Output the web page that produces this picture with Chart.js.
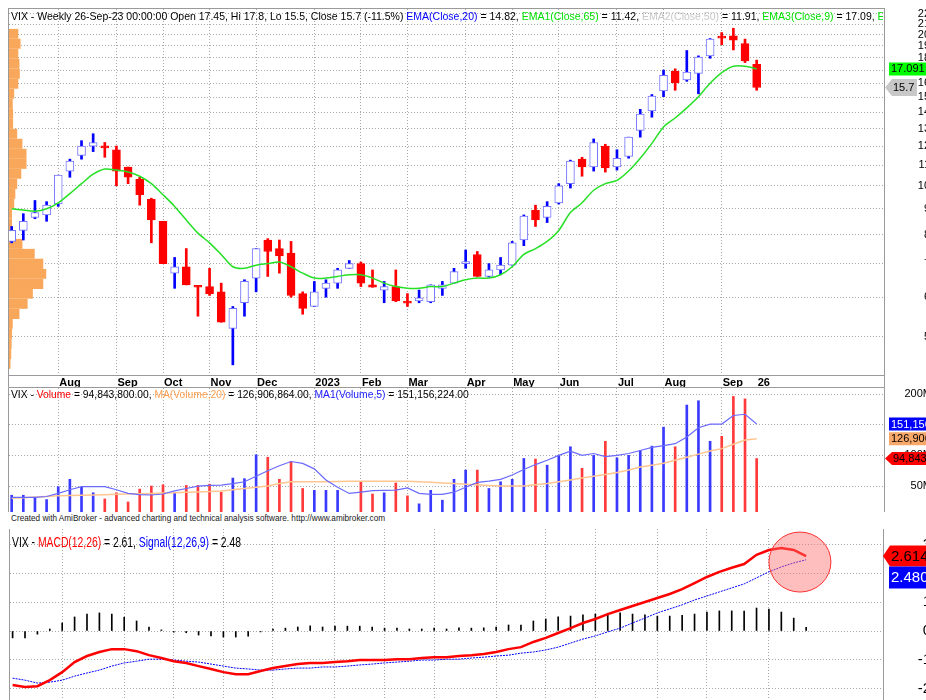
<!DOCTYPE html>
<html>
<head>
<meta charset="utf-8">
<script src="https://cdn.jsdelivr.net/npm/chart.js@4.4.0/dist/chart.umd.min.js"></script>
<style>
  html, body { margin: 0; padding: 0; background: #fff; width: 926px; height: 700px; overflow: hidden; }
  canvas { position: absolute; left: 0; }
  .t { position: absolute; white-space: nowrap; overflow: hidden; font-family: "Liberation Sans", Arial, sans-serif; color: #000; }
  .narrow { transform: scaleX(0.69); transform-origin: left top; }
</style>
</head>
<body>
<canvas id="priceChart" width="930" height="388" style="top:0"></canvas>
<canvas id="volumeChart" width="932" height="124" style="top:388px"></canvas>
<canvas id="macdChart" width="931" height="171" style="top:529px"></canvas>

<div class="t" style="left:11px;top:10px;width:872px;font-size:10.5px">VIX - Weekly 26-Sep-23 00:00:00 Open 17.45, Hi 17.8, Lo 15.5, Close 15.7 (-11.5%) <span style="color:#0000ff">EMA(Close,20)</span> = 14.82, <span style="color:#00e000">EMA1(Close,65)</span> = 11.42, <span style="color:#c8c8c8">EMA2(Close,50)</span> = 11.91, <span style="color:#00e000">EMA3(Close,9)</span> = 17.09, <span style="color:#00e000">EM</span></div>
<div class="t" style="left:11px;top:389px;width:872px;font-size:10.3px">VIX - <span style="color:#ff0000">Volume</span> = 94,843,800.00, <span style="color:#ffa050">MA(Volume,20)</span> = 126,906,864.00, <span style="color:#2020ff">MA1(Volume,5)</span> = 151,156,224.00</div>
<div class="t" style="left:11px;top:514px;font-size:8.2px;color:#202020">Created with AmiBroker - advanced charting and technical analysis software. http://www.amibroker.com</div>
<div class="t narrow" style="left:12px;top:533px;font-size:15px">VIX - <span style="color:#ff0000">MACD(12,26)</span> = 2.61, <span style="color:#0000ff">Signal(12,26,9)</span> = 2.48</div>

<script>
// weekly bars, last one is the partial week of 26-Sep-23
const weeks = ['2022-07-08','2022-07-15','2022-07-22','2022-07-29','2022-08-05','2022-08-12','2022-08-19','2022-08-26',
  '2022-09-02','2022-09-09','2022-09-16','2022-09-23','2022-09-30','2022-10-07','2022-10-14','2022-10-21','2022-10-28',
  '2022-11-04','2022-11-11','2022-11-18','2022-11-25','2022-12-02','2022-12-09','2022-12-16','2022-12-23','2022-12-30',
  '2023-01-06','2023-01-13','2023-01-20','2023-01-27','2023-02-03','2023-02-10','2023-02-17','2023-02-24','2023-03-03',
  '2023-03-10','2023-03-17','2023-03-24','2023-03-31','2023-04-07','2023-04-14','2023-04-21','2023-04-28','2023-05-05',
  '2023-05-12','2023-05-19','2023-05-26','2023-06-02','2023-06-09','2023-06-16','2023-06-23','2023-06-30','2023-07-07',
  '2023-07-14','2023-07-21','2023-07-28','2023-08-04','2023-08-11','2023-08-18','2023-08-25','2023-09-01','2023-09-08',
  '2023-09-15','2023-09-22','2023-09-26'];

const opens = [7.75,8.15,8.65,8.75,9.2,10.7,11.5,12.0,11.95,11.8,10.9,10.3,9.4,8.5,6.7,6.9,6.3,6.3,6.15,5.2,5.85,6.55,
  7.8,7.5,7.35,6.1,5.75,6.25,6.4,6.85,7.0,6.35,6.2,6.3,5.86,5.9,5.88,6.25,6.4,7.0,7.3,6.6,6.8,6.95,7.8,8.95,8.65,9.25,
  10.1,11.3,10.9,12.0,10.9,11.45,12.9,14.1,15.45,16.9,16.25,16.75,18.15,19.72,19.9,19.2,17.45];
const highs = [8.3,8.8,9.35,9.3,10.5,11.3,12.3,12.7,12.2,12.0,10.9,10.4,9.45,8.5,7.2,7.5,6.32,6.85,6.4,5.75,6.5,7.5,
  7.85,7.8,7.75,6.15,6.45,6.5,6.85,7.1,7.05,6.8,6.45,6.8,6.1,6.2,6.35,6.45,6.85,7.45,7.4,7.0,7.2,7.75,8.75,9.15,9.3,10.1,
  11.25,11.4,12.4,12.1,11.8,12.5,14.2,15.2,17.0,17.1,18.6,18.15,19.65,20.2,20.6,19.6,17.8];
const lows = [7.7,7.8,8.6,8.5,9.1,10.4,11.3,11.7,11.4,10.0,10.1,9.15,7.7,7.0,6.25,6.35,5.5,6.05,5.35,4.4,5.5,6.15,
  6.6,6.7,6.0,5.55,5.75,6.0,6.25,6.85,6.3,6.28,5.85,5.88,5.75,5.85,5.85,6.05,6.4,6.85,6.6,6.58,6.65,6.95,7.6,8.3,8.45,9.2,
  9.9,10.45,10.7,10.65,10.75,11.35,12.5,13.7,15.05,15.5,16.15,15.25,17.95,19.1,18.65,17.6,15.5];
const closes = [8.15,8.5,8.85,9.15,10.5,11.2,12.0,12.2,11.9,10.7,10.4,9.6,8.55,7.0,6.9,6.35,6.28,6.1,5.35,5.7,6.45,7.5,
  7.4,7.25,6.05,5.7,6.15,6.4,6.8,7.0,6.4,6.28,6.3,5.9,5.84,5.98,6.35,6.35,6.75,7.05,6.6,6.8,6.95,7.7,8.7,8.55,9.1,10.0,
  11.2,10.9,12.2,10.85,11.35,12.5,13.9,15.1,16.6,16.05,16.85,18.05,19.6,19.68,19.5,17.74,15.7];
const ema9 = [9.0,8.95,8.9,9.0,9.25,9.65,10.1,10.55,10.8,10.75,10.65,10.45,10.1,9.6,9.1,8.55,8.05,7.7,7.3,6.9,6.85,6.95,
  7.0,7.05,6.9,6.7,6.55,6.55,6.6,6.65,6.65,6.55,6.4,6.3,6.25,6.25,6.3,6.3,6.4,6.5,6.55,6.55,6.65,6.9,7.3,7.5,7.75,8.15,
  8.85,9.25,9.8,10.1,10.25,10.7,11.35,12.15,13.1,13.65,14.3,15.05,16.0,16.8,17.3,17.3,17.09];

// volume, millions
const volumeM = [35,35,31,28,49,61,48,39,29,39,24,45,50,52,39,51,51,53,40,63,62,101,97,61,90,46,43,43,43,4,57,37,39,55,
  34,21,43,27,61,76,76,46,57,61,95,94,84,100,114,79,100,123,96,100,108,115,146,114,182,189,123,131,196,192,94.8438];
const volMa20M = [30,31,32,33,34,34.5,35,35.5,36,36.5,37,37.5,38,38.5,39,40,40.5,41,42,44,46,48,50,54,57,57,57,57,57.5,58,
  58,58,58,58,58,57,56,55,54,53,52,51,50,50,50,52,54,57,60,63,66,69,72,76,81,84,87,92,97,102,107,111,118,125,126.9];
const volMa5M = [31.6,31.6,31.6,33,38,44,49,49,49,44,38,36,35.4,37,42,46,50,51,51.6,54,57,66,75,83,90,87,78,60,48,38,40,
  42.4,43,43.5,47,38,36.5,36.5,40,48,56,58,61,68,77,85,92,100,107,100,103,98,100,103,108,113,116,119,130,145,151,151,165,167,151.2];

// MACD pane (same weeks, drawn on its own horizontal scale)
const macdLine = [-1.88,-1.95,-1.92,-1.71,-1.43,-1.08,-0.87,-0.73,-0.63,-0.63,-0.70,-0.84,-0.94,-1.05,-1.11,-1.22,-1.32,
  -1.43,-1.50,-1.50,-1.39,-1.29,-1.22,-1.15,-1.11,-1.11,-1.08,-1.05,-1.01,-1.01,-1.01,-0.98,-0.98,-0.94,-0.91,-0.91,-0.87,
  -0.84,-0.80,-0.73,-0.63,-0.56,-0.38,-0.24,-0.07,0.10,0.28,0.42,0.59,0.73,0.87,1.01,1.15,1.29,1.46,1.67,1.88,2.06,2.20,
  2.33,2.65,2.82,2.89,2.82,2.61];
const signalLine = [-1.64,-1.71,-1.81,-1.78,-1.71,-1.57,-1.46,-1.36,-1.22,-1.11,-1.05,-0.98,-0.98,-1.01,-1.05,-1.08,-1.15,
  -1.22,-1.29,-1.32,-1.36,-1.36,-1.32,-1.29,-1.29,-1.25,-1.25,-1.22,-1.18,-1.15,-1.11,-1.08,-1.05,-1.01,-1.01,-0.98,-0.98,
  -0.94,-0.91,-0.87,-0.84,-0.77,-0.73,-0.66,-0.56,-0.42,-0.28,-0.17,-0.03,0.10,0.28,0.45,0.63,0.77,0.91,1.08,1.22,1.36,
  1.50,1.64,1.85,2.06,2.23,2.37,2.48];
const macdHist = [-0.24,-0.24,-0.11,0.07,0.28,0.49,0.59,0.63,0.59,0.48,0.35,0.14,0.04,-0.04,-0.06,-0.14,-0.17,-0.21,-0.21,
  -0.18,-0.03,0.07,0.10,0.14,0.18,0.14,0.17,0.17,0.17,0.14,0.10,0.10,0.07,0.07,0.10,0.07,0.11,0.10,0.11,0.14,0.21,0.21,
  0.35,0.42,0.49,0.52,0.56,0.59,0.62,0.63,0.59,0.56,0.52,0.52,0.55,0.59,0.66,0.70,0.70,0.69,0.80,0.76,0.66,0.45,0.13];

const priceTicks = [5,6,7,8,9,10,11,12,13,14,15,16,17,18,19,20,21,22];
const volumeTicks = [50,100,150,200];
const macdTicks = [-2,-1,0,1,2,3];
const monthTickIndex = [4,9,13,17,21,26,30,34,39,43,47,52,56,61,64];
const monthTickLabels = ['Aug','Sep','Oct','Nov','Dec','2023','Feb','Mar','Apr','May','Jun','Jul','Aug','Sep','26'];

// price-volume distribution on the left of the price pane (relative volume per price band)
const profileEdges = [20.54,19.63,18.75,17.91,17.11,16.34,15.61,14.91,14.24,13.60,12.99,12.41,11.85,11.32,10.81,10.33,
  9.86,9.42,9.00,8.60,8.21,7.84,7.49,7.16,6.83,6.53,6.23,5.96,5.69,5.43,5.19,4.96,4.73,4.52,4.32];
const profileVol = [25,31,25,28,29,25,14,10,11,11,22,36,47,47,33,22,17,14,8,8,8,36,69,92,100,92,64,50,28,10,8,7,6,4];
const profileFullWidthBars = 3.2; // the longest band spans about this many weekly bars

const FONT = "'Liberation Sans', Arial, sans-serif";
const GRID = '#a8a8a8';
const up = closes.map((c, i) => c >= opens[i]);
const xy = (arr) => arr.map((v, i) => ({ x: i, y: v }));

function paneFrame(strip) {
  return {
    id: 'paneFrame',
    afterDraw(chart) {
      const { ctx, chartArea: a } = chart;
      ctx.save();
      ctx.strokeStyle = '#9a9a9a';
      ctx.lineWidth = 1;
      const l = Math.round(a.left) - 0.5, r = Math.round(a.right) + 0.5;
      const t = Math.round(a.top) - 0.5, b = Math.round(a.bottom) + 0.5;
      ctx.strokeRect(l, t, r - l, b - t);
      if (strip) {
        ctx.beginPath();
        ctx.moveTo(l, b); ctx.lineTo(l, b + strip);
        ctx.moveTo(l, b + strip); ctx.lineTo(r, b + strip);
        ctx.moveTo(r, b); ctx.lineTo(r, b + strip);
        ctx.stroke();
      }
      ctx.restore();
    }
  };
}

function badges(items) {
  return {
    id: 'badges',
    afterDraw(chart) {
      const { ctx } = chart;
      const ys = chart.scales.y;
      let prevBottom = -1e9;
      items.forEach((b) => {
        let cy = ys.getPixelForValue(b.value);
        if (cy - b.h / 2 < prevBottom) cy = prevBottom + b.h / 2;
        const top = cy - b.h / 2;
        ctx.save();
        ctx.fillStyle = b.bg;
        ctx.beginPath();
        if (b.tag) {
          ctx.moveTo(b.x0, cy);
          ctx.lineTo(b.x0 + 7, top);
          ctx.lineTo(b.x1, top);
          ctx.lineTo(b.x1, top + b.h);
          ctx.lineTo(b.x0 + 7, top + b.h);
          ctx.closePath();
        } else {
          ctx.rect(b.x0, top, b.x1 - b.x0, b.h);
        }
        ctx.fill();
        ctx.fillStyle = b.fg;
        ctx.font = b.font;
        ctx.textBaseline = 'middle';
        ctx.fillText(b.text, b.x0 + (b.tag ? 8 : 2), cy + 0.5);
        ctx.restore();
        prevBottom = top + b.h;
      });
    }
  };
}

const profilePlugin = {
  id: 'profile',
  beforeDatasetsDraw(chart) {
    const { ctx } = chart;
    const ys = chart.scales.y, xs = chart.scales.x;
    const maxVol = Math.max(...profileVol);
    ctx.save();
    ctx.fillStyle = '#f9a85b';
    profileVol.forEach((v, i) => {
      const y1 = ys.getPixelForValue(profileEdges[i]);
      const y2 = ys.getPixelForValue(profileEdges[i + 1]);
      const x0 = xs.getPixelForValue(xs.min);
      const x1 = xs.getPixelForValue(xs.min + profileFullWidthBars * v / maxVol);
      ctx.fillRect(x0, y1, x1 - x0, y2 - y1);
    });
    ctx.restore();
  }
};

function monthAxis(min, max, showLabels) {
  return {
    type: 'linear', min, max, offset: false,
    afterBuildTicks: (s) => { s.ticks = monthTickIndex.map((v) => ({ value: v })); },
    afterFit: (s) => { s.height = showLabels ? 13 : 0; s.paddingLeft = 0; s.paddingRight = 0; },
    grid: {
      offset: false, drawTicks: false,
      color: (c) => (c.tick && c.tick.value === 64 ? 'rgba(0,0,0,0)' : GRID)
    },
    border: { display: false, dash: [1, 2] },
    ticks: {
      display: showLabels, autoSkip: false, maxRotation: 0, align: 'start', padding: 1, labelOffset: 1,
      color: '#000', font: { family: FONT, size: 11, weight: 'bold' },
      callback: (v, i) => monthTickLabels[i]
    }
  };
}

function rightAxis(width, extra) {
  return Object.assign({
    position: 'right',
    grid: { drawTicks: false, color: GRID },
    border: { display: false, dash: [1, 2] },
    afterFit: (s) => { s.width = width; s.paddingTop = 0; s.paddingBottom = 0; }
  }, extra);
}

const common = {
  responsive: false,
  animation: false,
  events: [],
  plugins: { legend: { display: false }, tooltip: { enabled: false } }
};

// price pane
new Chart(document.getElementById('priceChart'), {
  type: 'bar',
  data: {
    datasets: [
      {
        label: 'wick', order: 3, grouped: false, barThickness: 2,
        data: weeks.map((w, i) => ({ x: i, y: [lows[i], highs[i]] })),
        backgroundColor: up.map((u) => (u ? '#0000ff' : '#ff0000'))
      },
      {
        label: 'body', order: 2, grouped: false, barThickness: 8, minBarLength: 2, borderSkipped: false, borderWidth: 1,
        data: weeks.map((w, i) => ({ x: i, y: [opens[i], closes[i]] })),
        backgroundColor: up.map((u) => (u ? '#ffffff' : '#ff0000')),
        borderColor: up.map((u) => (u ? '#7474ff' : '#ff0000'))
      },
      {
        type: 'line', label: 'EMA3(Close,9)', order: 1, data: xy(ema9),
        borderColor: '#26e026', borderWidth: 1.5, pointRadius: 0, tension: 0.3
      }
    ]
  },
  options: Object.assign({}, common, {
    layout: { padding: { left: 9, top: 9, right: 0, bottom: 0 } },
    scales: {
      x: monthAxis(-0.23, 74.94, true),
      y: rightAxis(46, {
        type: 'logarithmic', min: 4.2, max: 22.5, beginAtZero: false,
        afterBuildTicks: (s) => { s.ticks = priceTicks.map((v) => ({ value: v })); },
        ticks: { autoSkip: false, crossAlign: 'far', padding: 0, color: '#000', font: { family: FONT, size: 11 },
          callback: (v) => String(v) }
      })
    }
  }),
  plugins: [profilePlugin, paneFrame(12), badges([
    { value: 17.091, text: '17.091', bg: '#00ff00', fg: '#000', x0: 889, x1: 960, h: 13, font: '11px ' + FONT },
    { value: 15.7, text: '15.7', bg: '#c8c8c8', fg: '#000', x0: 885, x1: 917, h: 17, tag: true, font: '11px ' + FONT }
  ])]
});

// volume pane
new Chart(document.getElementById('volumeChart'), {
  type: 'bar',
  data: {
    datasets: [
      {
        type: 'line', label: 'MA1(Volume,5)', order: 1, data: xy(volMa5M),
        borderColor: '#6a6aff', borderWidth: 1.2, pointRadius: 0
      },
      {
        type: 'line', label: 'MA(Volume,20)', order: 2, data: xy(volMa20M),
        borderColor: '#ffc690', borderWidth: 1.5, pointRadius: 0
      },
      {
        label: 'Volume', order: 3, grouped: false, barThickness: 2,
        data: xy(volumeM),
        backgroundColor: up.map((u) => (u ? '#3a3aff' : '#ff3a3a'))
      }
    ]
  },
  options: Object.assign({}, common, {
    layout: { padding: { left: 9, top: 0, right: 0, bottom: 0 } },
    scales: {
      x: monthAxis(-0.23, 74.94, false),
      y: rightAxis(48, {
        type: 'linear', min: 7.7, max: 209.8,
        afterBuildTicks: (s) => { s.ticks = volumeTicks.map((v) => ({ value: v })); },
        ticks: { autoSkip: false, crossAlign: 'far', padding: 0, color: '#000', font: { family: FONT, size: 11 },
          callback: (v) => v + 'M' }
      })
    }
  }),
  plugins: [paneFrame(0), badges([
    { value: 151.156224, text: '151,156,224', bg: '#0000ff', fg: '#fff', x0: 889, x1: 960, h: 13, font: '11px ' + FONT },
    { value: 126.906864, text: '126,906,864', bg: '#f8a868', fg: '#000', x0: 889, x1: 960, h: 13, font: '11px ' + FONT },
    { value: 94.8438, text: '94,843,800', bg: '#ff0000', fg: '#000', x0: 885, x1: 960, h: 13, tag: true, font: '11px ' + FONT }
  ])]
});

// MACD pane
const ellipsePlugin = {
  id: 'circleNote',
  afterDatasetsDraw(chart) {
    const { ctx } = chart;
    const cx = chart.scales.x.getPixelForValue(63.5);
    const cy = chart.scales.y.getPixelForValue(2.4);
    ctx.save();
    ctx.beginPath();
    ctx.ellipse(cx, cy, 31, 30, 0, 0, Math.PI * 2);
    ctx.fillStyle = 'rgba(255,110,110,0.45)';
    ctx.fill();
    ctx.strokeStyle = '#ff3030';
    ctx.lineWidth = 1;
    ctx.stroke();
    ctx.restore();
  }
};

new Chart(document.getElementById('macdChart'), {
  type: 'bar',
  data: {
    datasets: [
      {
        type: 'line', label: 'MACD(12,26)', order: 1, data: xy(macdLine),
        borderColor: '#ff0000', borderWidth: 2.5, pointRadius: 0
      },
      {
        type: 'line', label: 'Signal(12,26,9)', order: 2, data: xy(signalLine),
        borderColor: '#0000ff', borderWidth: 1, borderDash: [2, 1], pointRadius: 0
      },
      {
        label: 'Histogram', order: 3, grouped: false, barThickness: 1,
        data: xy(macdHist), backgroundColor: '#000'
      }
    ]
  },
  options: Object.assign({}, common, {
    layout: { padding: { left: 10, top: 0, right: 0, bottom: 0 } },
    scales: {
      x: monthAxis(-0.21, 70.2, false),
      y: rightAxis(48, {
        type: 'linear', min: -2.4, max: 3.55,
        afterBuildTicks: (s) => { s.ticks = macdTicks.map((v) => ({ value: v })); },
        ticks: { autoSkip: false, crossAlign: 'far', padding: 0, color: '#000', font: { family: FONT, size: 15 },
          callback: (v) => String(v) }
      })
    }
  }),
  plugins: [ellipsePlugin, paneFrame(0), badges([
    { value: 2.61476, text: '2.61476', bg: '#ff0000', fg: '#000', x0: 883, x1: 960, h: 21, tag: true, font: '15px ' + FONT },
    { value: 2.48065, text: '2.48065', bg: '#0000ff', fg: '#fff', x0: 889, x1: 960, h: 22, font: '15px ' + FONT }
  ])]
});
</script>
</body>
</html>
